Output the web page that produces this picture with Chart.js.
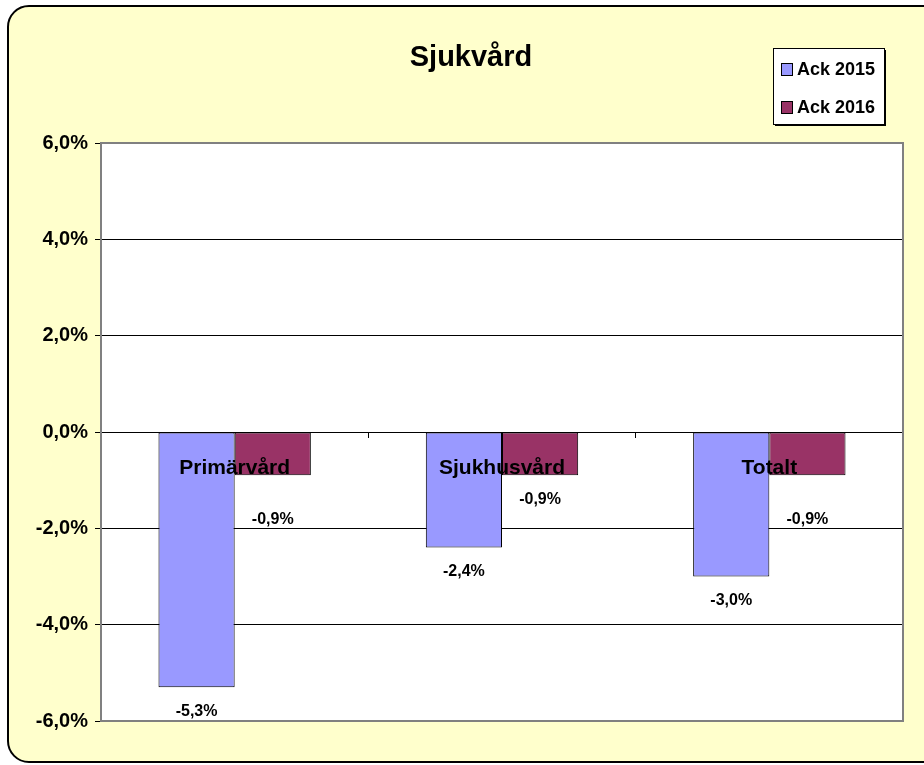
<!DOCTYPE html>
<html>
<head>
<meta charset="utf-8">
<script src="https://cdn.jsdelivr.net/npm/chart.js@4/dist/chart.umd.min.js"></script>
<style>
  body { margin: 0; background: #fff; overflow: hidden; }
  .frame {
    position: absolute;
    left: 7px;
    top: 5px;
    width: 960px;
    height: 758px;
    box-sizing: border-box;
    background: #ffffcc;
    border: 2px solid #000;
    border-radius: 22px;
  }
  #chart { position: absolute; left: 0; top: 0; }
</style>
</head>
<body>
<div class="frame"></div>
<canvas id="chart" width="924" height="765"></canvas>
<script>
const title = "Sjukvård";
const categories = ["Primärvård", "Sjukhusvård", "Totalt"];
const seriesNames = ["Ack 2015", "Ack 2016"];
const ack2015 = [-5.3, -2.4, -3.0];
const ack2016 = [-0.9, -0.9, -0.9];
const yTicks = [-6, -4, -2, 0, 2, 4, 6];

// how far below the bar end each value label sits (px)
const labelGap = [
  [24, 24, 24],
  [44, 24, 44],
];

const FONT = "'Liberation Sans', Arial, sans-serif";

function pct(v) {
  return v.toFixed(1).replace(".", ",") + "%";
}

const decor = {
  id: "decor",
  beforeDraw(chart) {
    const { ctx, chartArea: a } = chart;
    ctx.save();
    ctx.fillStyle = "#fff";
    ctx.fillRect(a.left, a.top, a.right - a.left, a.bottom - a.top);
    ctx.restore();
  },
  afterDatasetsDraw(chart) {
    const { ctx, chartArea: a } = chart;
    const x = chart.scales.x;
    const y = chart.scales.y;
    ctx.save();
    // plot frame
    ctx.strokeStyle = "#808080";
    ctx.lineWidth = 2;
    ctx.strokeRect(a.left, a.top, a.right - a.left, a.bottom - a.top);

    ctx.fillStyle = "#000";
    ctx.textAlign = "center";
    ctx.textBaseline = "middle";

    // category labels sit just under the zero line, over the bars
    ctx.font = "bold 21px " + FONT;
    const zero = y.getPixelForValue(0);
    categories.forEach((c, i) => {
      ctx.fillText(c, x.getPixelForValue(i), zero + 36);
    });

    // value labels
    ctx.font = "bold 16px " + FONT;
    chart.data.datasets.forEach((ds, i) => {
      chart.getDatasetMeta(i).data.forEach((bar, j) => {
        ctx.fillText(pct(ds.data[j]), bar.x, bar.y + labelGap[i][j]);
      });
    });

    // title
    ctx.font = "bold 29px " + FONT;
    ctx.fillText(title, 471, 58);

    // legend
    const lx = 773, ly = 48, lw = 111, lh = 76;
    ctx.fillStyle = "#000";
    ctx.fillRect(lx + 2, ly + 2, lw, lh);
    ctx.fillStyle = "#fff";
    ctx.fillRect(lx, ly, lw, lh);
    ctx.strokeStyle = "#000";
    ctx.lineWidth = 1;
    ctx.strokeRect(lx + 0.5, ly + 0.5, lw, lh);
    ctx.font = "bold 18px " + FONT;
    ctx.textAlign = "left";
    chart.data.datasets.forEach((ds, i) => {
      const cy = ly + 21 + i * 38;
      ctx.fillStyle = ds.backgroundColor;
      ctx.fillRect(781, cy - 6, 11, 12);
      ctx.strokeStyle = "#000";
      ctx.strokeRect(781.5, cy - 5.5, 11, 12);
      ctx.fillStyle = "#000";
      ctx.fillText(ds.label, 797, cy + 1);
    });
    ctx.restore();
  },
};

new Chart(document.getElementById("chart"), {
  type: "bar",
  data: {
    labels: categories,
    datasets: [
      {
        label: seriesNames[0],
        data: ack2015,
        backgroundColor: "#9999ff",
        borderColor: "#000",
        borderWidth: 1,
        borderSkipped: false,
      },
      {
        label: seriesNames[1],
        data: ack2016,
        backgroundColor: "#993366",
        borderColor: "#000",
        borderWidth: 1,
        borderSkipped: false,
      },
    ],
  },
  options: {
    responsive: false,
    animation: false,
    categoryPercentage: 0.57,
    barPercentage: 1,
    layout: { padding: { left: 0, top: 143, right: 21, bottom: 44 } },
    plugins: {
      legend: { display: false },
      title: { display: false },
      tooltip: { enabled: false },
    },
    scales: {
      x: {
        position: { y: 0 },
        z: 1,
        grid: {
          offset: true,
          drawOnChartArea: false,
          drawTicks: true,
          tickLength: 5,
          tickColor: "#000",
        },
        border: { display: true, color: "#000", width: 1 },
        ticks: { display: false },
      },
      y: {
        min: yTicks[0],
        max: yTicks[yTicks.length - 1],
        afterBuildTicks: (scale) => {
          scale.ticks = yTicks.map((v) => ({ value: v }));
        },
        afterFit: (scale) => {
          scale.width = 101;
        },
        grid: {
          color: (c) =>
            c.tick && Math.abs(c.tick.value) === 6 ? "rgba(0,0,0,0)" : "#000",
          tickColor: "#000",
          tickLength: 6,
          lineWidth: 1,
        },
        border: { display: false },
        ticks: {
          color: "#000",
          padding: 7,
          font: { family: FONT, size: 20, weight: "bold" },
          callback: (v) => pct(v),
        },
      },
    },
  },
  plugins: [decor],
});
</script>
</body>
</html>
